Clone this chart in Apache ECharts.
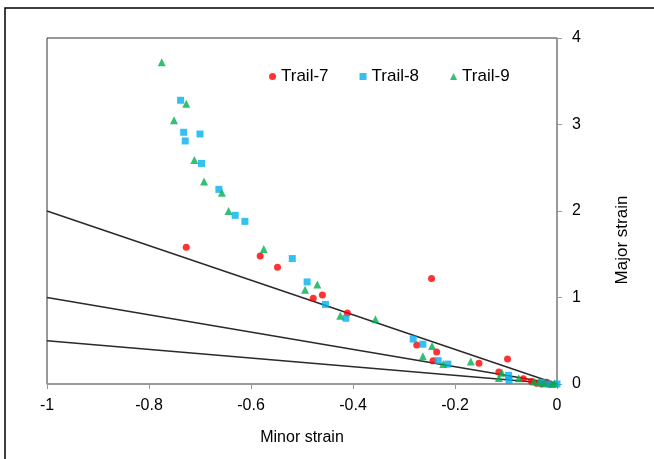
<!DOCTYPE html>
<html>
<head>
<meta charset="utf-8">
<script src="https://cdn.jsdelivr.net/npm/echarts@6/dist/echarts.min.js"></script>
<style>
  html, body { margin: 0; padding: 0; background: #fff; }
  #chart { width: 654px; height: 459px; }
</style>
</head>
<body>
<div id="chart"></div>
<script>
// Trail-7 points [minor, major]
const trail7 = [
  [-0.727, 1.58], [-0.582, 1.48], [-0.548, 1.35], [-0.478, 0.99], [-0.460, 1.03],
  [-0.411, 0.82], [-0.246, 1.22], [-0.275, 0.45], [-0.236, 0.37], [-0.243, 0.27],
  [-0.153, 0.24], [-0.097, 0.29], [-0.114, 0.14], [-0.066, 0.06], [-0.05, 0.03],
  [-0.04, 0.01], [-0.03, 0.0], [-0.015, 0.0], [-0.02, 0.02]
];
// Trail-8 points
const trail8 = [
  [-0.738, 3.28], [-0.732, 2.91], [-0.700, 2.89], [-0.729, 2.81], [-0.697, 2.55],
  [-0.663, 2.25], [-0.631, 1.95], [-0.612, 1.88], [-0.519, 1.45], [-0.490, 1.18],
  [-0.454, 0.92], [-0.414, 0.76], [-0.282, 0.52], [-0.263, 0.46], [-0.233, 0.27],
  [-0.214, 0.23], [-0.095, 0.10], [-0.094, 0.04], [-0.017, 0.0], [0, 0.0], [-0.03, 0.02]
];
// Trail-9 points
const trail9 = [
  [-0.775, 3.72], [-0.727, 3.24], [-0.751, 3.05], [-0.711, 2.59], [-0.692, 2.34],
  [-0.657, 2.21], [-0.644, 2.00], [-0.575, 1.56], [-0.494, 1.09], [-0.470, 1.15],
  [-0.425, 0.79], [-0.356, 0.75], [-0.263, 0.32], [-0.245, 0.44], [-0.223, 0.23],
  [-0.169, 0.26], [-0.114, 0.07], [-0.108, 0.13], [-0.075, 0.066], [-0.045, 0.03],
  [-0.035, 0.02], [-0.025, 0.01], [-0.01, 0.0], [-0.005, 0.01]
];
// reference lines major = -k * minor
const refLine1 = [[-1, 2], [0, 0]];
const refLine2 = [[-1, 1], [0, 0]];
const refLine3 = [[-1, 0.5], [0, 0]];

const font = 'Liberation Sans, Arial, sans-serif';

const chart = echarts.init(document.getElementById('chart'));

const lineStyle = { color: '#2a2a2a', width: 1.5 };
const mkLine = (d) => ({
  type: 'line', data: d, showSymbol: false, silent: true,
  lineStyle: lineStyle, z: 1
});

chart.setOption({
  animation: false,
  backgroundColor: '#fff',
  grid: {
    left: 47, right: 97, top: 38, bottom: 75,
    show: true, borderColor: '#333', borderWidth: 1
  },
  legend: {
    data: ['Trail-7', 'Trail-8', 'Trail-9'],
    top: 63, left: 264,
    itemWidth: 7, itemHeight: 7, itemGap: 31,
    textStyle: { fontFamily: font, fontSize: 17, color: '#000' }
  },
  xAxis: {
    type: 'value', min: -1, max: 0, interval: 0.2,
    name: 'Minor strain', nameLocation: 'middle', nameGap: 46,
    nameTextStyle: { fontFamily: font, fontSize: 16, color: '#000' },
    axisLine: { show: true, lineStyle: { color: '#999', width: 1.5 } },
    axisTick: { show: true, length: 5, lineStyle: { color: '#999' } },
    axisLabel: { fontFamily: font, fontSize: 16, color: '#000', margin: 14 },
    splitLine: { show: false }
  },
  yAxis: {
    type: 'value', min: 0, max: 4, interval: 1, position: 'right',
    name: 'Major strain', nameLocation: 'middle', nameGap: 57, nameRotate: 90,
    nameTextStyle: { fontFamily: font, fontSize: 17, color: '#000', padding: [0, 58, 0, 0] },
    axisLine: { show: true, lineStyle: { color: '#999', width: 1.5 } },
    axisTick: { show: true, length: 5, lineStyle: { color: '#999' } },
    axisLabel: { fontFamily: font, fontSize: 16, color: '#000', margin: 15 },
    splitLine: { show: false }
  },
  series: [
    mkLine(refLine1),
    mkLine(refLine2),
    mkLine(refLine3),
    {
      name: 'Trail-7', type: 'scatter', data: trail7, symbol: 'circle', symbolSize: 7,
      itemStyle: { color: '#ff0000' }, z: 3
    },
    {
      name: 'Trail-8', type: 'scatter', data: trail8, symbol: 'rect', symbolSize: 7,
      itemStyle: { color: '#00b0f0' }, z: 3
    },
    {
      name: 'Trail-9', type: 'scatter', data: trail9, symbol: 'triangle', symbolSize: 8,
      itemStyle: { color: '#00b050' }, z: 4
    }
  ],
  graphic: [{
    type: 'rect', silent: true,
    shape: { x: 5, y: 8, width: 700, height: 520 },
    style: { fill: 'none', stroke: '#000', lineWidth: 1.5 }
  }]
});
</script>
</body>
</html>
